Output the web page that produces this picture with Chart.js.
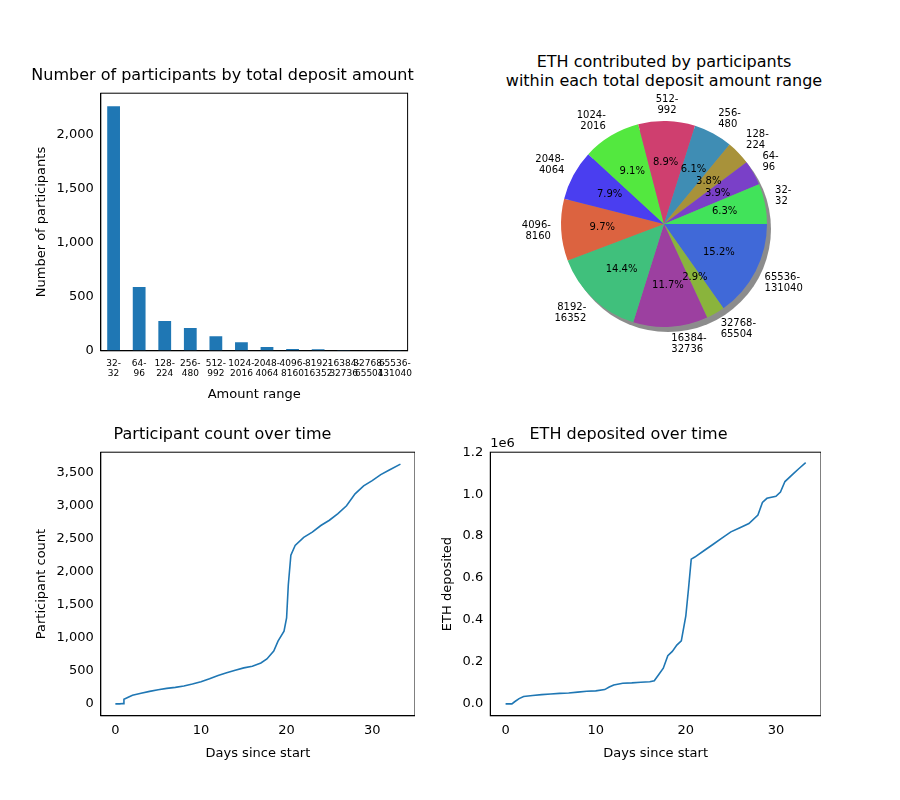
<!DOCTYPE html>
<html>
<head>
<meta charset="utf-8">
<script src="https://cdn.jsdelivr.net/npm/chart.js@4/dist/chart.umd.min.js"></script>
<style>
body{margin:0;width:900px;height:800px;background:#fff;position:relative;font-family:"DejaVu Sans";overflow:hidden}
.box{position:absolute}
.ttl{position:absolute;text-align:center;font-size:16px;color:#000;line-height:19px}
</style>
</head>
<body>
<div class="box" style="left:30px;top:66px;width:385px;height:340px"><canvas id="barChart"></canvas></div>
<div class="ttl" style="left:494px;top:52px;width:340px">ETH contributed by participants<br>within each total deposit amount range</div>
<div class="box" style="left:494px;top:64px;width:340px;height:320px"><canvas id="pieChart"></canvas></div>
<div class="box" style="left:30px;top:425px;width:385px;height:340px"><canvas id="countChart"></canvas></div>
<div class="box" style="left:436px;top:425px;width:385px;height:340px"><canvas id="ethChart"></canvas></div>
<script>
const ranges = [['32-','32'],['64-','96'],['128-','224'],['256-','480'],['512-','992'],['1024-','2016'],['2048-','4064'],['4096-','8160'],['8192-','16352'],['16384-','32736'],['32768-','65504'],['65536-','131040']];
const participants = [2260,590,275,210,135,80,35,17,15,8,2,5];
const ethShare = [6.3,3.9,3.8,6.1,8.9,9.1,7.9,9.7,14.4,11.7,2.9,15.2];
const pieColors = ['#41e35a','#7a40c8','#a8923a','#3f8db4','#cf3f6f','#53e83f','#4a3ef0','#dc6340','#40c07c','#9c40a0','#8ab43c','#4069d8'];

const countDays = [0,0.5,0.9,1,1.5,2,3,4,5,6,7,8,9,10,11,12,13,14,15,16,17,17.7,18.5,19,19.7,20,20.2,20.5,21,22,23,24,25,26,27,28,29,30,31,32,33.3];
const countValues = [0,0,5,70,100,130,160,190,215,235,250,270,300,335,380,430,470,510,545,570,620,680,800,950,1100,1300,1800,2250,2400,2520,2600,2700,2780,2880,3000,3180,3300,3380,3470,3540,3630];
const ethDays = [0,0.7,1,1.5,2,3,4,5,6,7,8,9,10,11,11.5,12,13,14,15,16,16.5,17,17.5,18,18.5,19,19.5,20,20.3,20.6,21,22,23,24,25,26,27,28,28.5,29,30,30.5,31,32,32.5,33.3];
const ethValues = [0,0,0.01,0.025,0.035,0.04,0.044,0.047,0.05,0.052,0.056,0.06,0.062,0.068,0.08,0.09,0.098,0.1,0.103,0.105,0.11,0.14,0.17,0.23,0.25,0.28,0.3,0.42,0.55,0.69,0.7,0.73,0.76,0.79,0.82,0.84,0.86,0.9,0.96,0.98,0.99,1.01,1.06,1.1,1.12,1.15];

Chart.defaults.font.family = 'DejaVu Sans';
Chart.defaults.color = '#000';
Chart.defaults.animation = false;

const frame = {
    id:'frame',
    afterDraw(chart){
        const a=chart.chartArea, c=chart.ctx;
        c.save(); c.strokeStyle='#000'; c.lineWidth=1;
        c.strokeRect(a.left,a.top,a.right-a.left,a.bottom-a.top);
        c.restore();
    }
};

const axisOpts = (title, extra) => Object.assign({
    grid:{display:false, drawTicks:true, tickLength:4, tickColor:'#000'},
    border:{display:true, color:'#000'},
    title:{display:true, text:title, font:{size:13}},
    ticks:{font:{size:13}, color:'#000'}
}, extra);

const titleOpts = (text) => ({display:true, text:text, font:{size:16, weight:'normal'}, padding:{top:0,bottom:8}, color:'#000'});

new Chart(document.getElementById('barChart'), {
    type:'bar',
    data:{labels:ranges, datasets:[{data:participants, backgroundColor:'#1f77b4', barPercentage:0.5, categoryPercentage:1}]},
    options:{
        responsive:true, maintainAspectRatio:false,
        plugins:{legend:{display:false}, title:titleOpts('Number of participants by total deposit amount')},
        scales:{
            x:axisOpts('Amount range',{ticks:{font:{size:9}, autoSkip:false, maxRotation:0, color:'#000'}}),
            y:axisOpts('Number of participants',{min:0, max:2380, afterBuildTicks:ax=>{ax.ticks=[0,500,1000,1500,2000].map(v=>({value:v}));}})
        }
    },
    plugins:[frame]
});

const pieLabels = {
    id:'pieLabels',
    beforeDatasetsDraw(chart){
        const arc=chart.getDatasetMeta(0).data[0]; const c=chart.ctx;
        c.save(); c.fillStyle='rgba(0,0,0,0.45)';
        c.beginPath(); c.arc(arc.x+4,arc.y+5,arc.outerRadius,0,Math.PI*2); c.fill(); c.restore();
    },
    afterDatasetsDraw(chart){
        const meta=chart.getDatasetMeta(0); const c=chart.ctx; const labs=chart.data.labels;
        c.save(); c.font='10px "DejaVu Sans"'; c.fillStyle='#000'; c.textBaseline='middle';
        meta.data.forEach((el,i)=>{
            const mid=(el.startAngle+el.endAngle)/2, r=el.outerRadius;
            const v=chart.data.datasets[0].data[i];
            c.textAlign='center';
            c.fillText(v.toFixed(1)+'%', el.x+Math.cos(mid)*r*0.6, el.y+Math.sin(mid)*r*0.6);
            const lx=el.x+Math.cos(mid)*r*1.1, ly=el.y+Math.sin(mid)*r*1.1;
            c.textAlign=Math.cos(mid)>0.05?'left':(Math.cos(mid)<-0.05?'right':'center');
            const lines=labs[i];
            const base=Math.sin(mid)>0.1?ly+6:(Math.sin(mid)<-0.1?ly-6:ly);
            c.fillText(lines[0], lx, base-5);
            c.fillText(lines[1], lx, base+6);
        });
        c.restore();
    }
};

new Chart(document.getElementById('pieChart'), {
    type:'pie',
    data:{labels:ranges.slice().reverse(), datasets:[{data:ethShare.slice().reverse(), backgroundColor:pieColors.slice().reverse(), borderWidth:0}]},
    options:{
        responsive:true, maintainAspectRatio:false, rotation:90,
        layout:{padding:{left:67,right:67,top:57,bottom:57}},
        plugins:{legend:{display:false}, tooltip:{enabled:false}}
    },
    plugins:[pieLabels]
});

const lineChart = (id, xs, ys, title, ytitle, yopts, extraPlugins) => new Chart(document.getElementById(id), {
    type:'line',
    data:{datasets:[{data:xs.map((x,i)=>({x:x,y:ys[i]})), borderColor:'#1f77b4', borderWidth:1.6, pointRadius:0, tension:0}]},
    options:{
        responsive:true, maintainAspectRatio:false,
        plugins:{legend:{display:false}, title:titleOpts(title)},
        scales:{
            x:axisOpts('Days since start',{type:'linear', min:-1.7, max:35, afterBuildTicks:ax=>{ax.ticks=[0,10,20,30].map(v=>({value:v}));}}),
            y:axisOpts(ytitle, yopts)
        }
    },
    plugins:[frame].concat(extraPlugins||[])
});

lineChart('countChart', countDays, countValues, 'Participant count over time', 'Participant count',
    {min:-180, max:3810, afterBuildTicks:ax=>{ax.ticks=[0,500,1000,1500,2000,2500,3000,3500].map(v=>({value:v}));}});

const offsetText = {
    id:'offsetText',
    afterDraw(chart){
        const a=chart.chartArea, c=chart.ctx;
        c.save(); c.font='13px "DejaVu Sans"'; c.fillStyle='#000'; c.textAlign='left'; c.textBaseline='bottom';
        c.fillText('1e6', a.left, a.top-2); c.restore();
    }
};
lineChart('ethChart', ethDays, ethValues, 'ETH deposited over time', 'ETH deposited',
    {min:-0.057, max:1.2, afterBuildTicks:ax=>{ax.ticks=[0,0.2,0.4,0.6,0.8,1.0,1.2].map(v=>({value:v}));},
     ticks:{font:{size:13}, color:'#000', callback:v=>v.toFixed(1)}}, [offsetText]);
</script>
</body>
</html>
